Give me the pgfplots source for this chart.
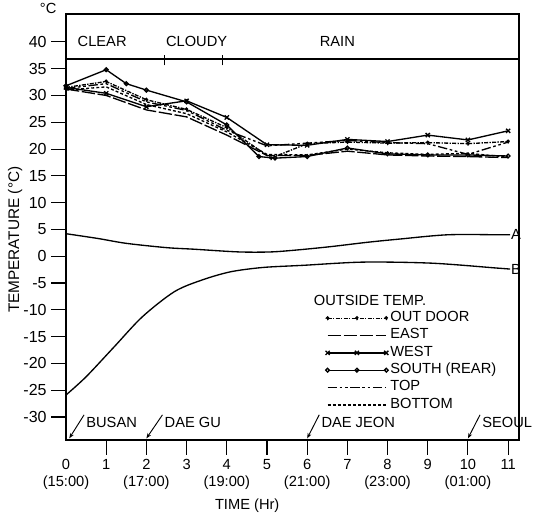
\documentclass[border=0pt]{standalone}
\usepackage{fontspec}
\setmainfont{Liberation Sans}
\usepackage{pgfplots}
\pgfplotsset{compat=1.18}
\usetikzlibrary{arrows.meta}

\begin{document}
\begin{tikzpicture}[font=\fontsize{11}{12}\selectfont]
\begin{axis}[
  scale only axis,
  width=339.75pt, height=319.5pt,
  xmin=0, xmax=11.27, ymin=-34.3, ymax=45.2,
  clip=false,
  axis line style={line width=1.1pt},
  tick style={line width=0.8pt, black},
  tick align=outside,
  xtick pos=bottom, ytick pos=left,
  major tick length=11pt,
  xtick={1,...,11},
  xticklabels={1,{2\\(17:00)},3,{4\\(19:00)},5,{6\\(21:00)},7,{8\\(23:00)},9,{10\\(01:00)},11},
  extra x ticks={0},
  extra x tick labels={{0\\(15:00)}},
  extra x tick style={major tick length=11pt, tick style={draw=none}},
  xticklabel style={align=center, anchor=north, font=\fontsize{11}{12.5}\selectfont},
  ytick={-30,-25,...,40},
  yticklabels={-30,-25,-20,-15,-10,-5,0,5,10,15,20,25,30,35,40},
  yticklabel style={font=\fontsize{12}{12}\selectfont},
  ylabel={TEMPERATURE (°C)},
  ylabel style={at={(axis description cs:-0.086,0.47)}, anchor=south, font=\fontsize{11.5}{12}\selectfont},
  every axis plot/.append style={black, line width=1pt},
  legend image code/.code={\draw[#1] plot coordinates {(0pt,0pt) (22pt,0pt) (44pt,0pt)};},
  legend cell align=left,
  legend style={at={(axis cs:6.45,-9.9)}, anchor=north west, draw=none, fill=none,
    inner sep=0pt, row sep=0pt, column sep=1pt,
    nodes={inner sep=0.5pt, text height=8.5pt, text depth=3.5pt, font=\fontsize{11}{12}\selectfont}},
]
% outside temperatures
\addplot[densely dashdotted, mark=*, mark size=1pt] coordinates {
  (0,31.5)(1,32.6)(2,29.2)(3,27.4)(4,24.0)(5.1,18.3)(6,21.0)(7,21.3)(8,21.1)(9,21.2)(10,21.0)(11,21.4)};
\addlegendentry{OUT DOOR}
\addplot[dash pattern=on 10pt off 2pt] coordinates {
  (0,31.2)(1,30.0)(2,27.3)(3,26.0)(4,22.6)(5,18.8)(6,18.8)(7,19.6)(8,18.9)(9,18.7)(10,18.6)(11,18.4)};
\addlegendentry{EAST}
\addplot[solid, mark=x, mark size=2.2pt] coordinates {
  (0,31.5)(1,30.4)(2,27.9)(3,29.0)(4,25.9)(5,20.8)(6,20.7)(7,21.8)(8,21.4)(9,22.6)(10,21.7)(11,23.4)};
\addlegendentry{WEST}
\addplot[solid, mark=o, mark size=1.4pt] coordinates {
  (0,31.8)(1,34.8)(1.5,32.2)(2,31.0)(3,28.8)(4,24.5)(4.8,18.6)(5.2,18.3)(6,18.6)(7,20.2)(8,19.1)(9,18.9)(10,18.9)(11,18.7)};
\addlegendentry{SOUTH (REAR)}
\addplot[dash pattern=on 7pt off 2pt on 2pt off 2pt on 2pt off 2pt] coordinates {
  (0,31.3)(1,32.2)(2,28.8)(3,27.2)(4,23.5)(5,20.6)(6,21.1)(7,21.6)(8,21.2)(9,21.0)(10,19.0)(11,21.3)};
\addlegendentry{TOP}
\addplot[dash pattern=on 2.2pt off 1.6pt] coordinates {
  (0,31.0)(1,31.6)(2,28.3)(3,26.6)(4,23.2)(5,19.0)(6,18.9)(7,20.0)(8,19.3)(9,19.0)(10,19.2)(11,18.5)};
\addlegendentry{BOTTOM}

% curves A and B
\addplot[smooth, forget plot] coordinates {
  (0,4.2)(0.8,3.3)(1.5,2.4)(2.5,1.6)(3.2,1.3)(4.3,0.8)(5.1,0.8)(5.8,1.2)(6.6,1.8)(7.5,2.6)(8.3,3.2)(9.5,4.0)(10.8,4.0)(11.05,4.0)};
\addplot[smooth, forget plot] coordinates {
  (0,-25.9)(0.5,-22.5)(1.2,-16.9)(1.9,-11.3)(2.7,-6.6)(3.4,-4.4)(4.1,-2.9)(4.9,-2.1)(5.9,-1.7)(7.4,-1.1)(9.1,-1.3)(10.7,-2.2)(11.05,-2.4)};
\node[anchor=west, inner sep=0.5pt] at (axis cs:11.05,4.0) {A};
\node[anchor=west, inner sep=0.5pt] at (axis cs:11.05,-2.4) {B};

% weather band
\draw[line width=1pt] (axis cs:0,36.8) -- (axis cs:11.27,36.8);
\draw[line width=0.8pt] (axis cs:2.45,35.6) -- (axis cs:2.45,37.6);
\draw[line width=0.8pt] (axis cs:3.9,35.6) -- (axis cs:3.9,37.6);
\node at (axis cs:0.9,40) {CLEAR};
\node at (axis cs:3.25,40) {CLOUDY};
\node at (axis cs:6.75,40) {RAIN};

\node[anchor=west] at (axis cs:6.05,-8.2) {OUTSIDE TEMP.};

% cities
\draw[line width=0.7pt, -{Stealth[length=4pt, width=3pt]}] (axis cs:0.45,-29.6) -- (axis cs:0.08,-34.0);
\node[anchor=west, inner sep=0pt] at (axis cs:0.5,-31.1) {BUSAN};
\draw[line width=0.7pt, -{Stealth[length=4pt, width=3pt]}] (axis cs:2.4,-29.6) -- (axis cs:2.0,-34.0);
\node[anchor=west, inner sep=0pt] at (axis cs:2.45,-31.1) {DAE GU};
\draw[line width=0.7pt, -{Stealth[length=4pt, width=3pt]}] (axis cs:6.3,-29.6) -- (axis cs:6.0,-34.0);
\node[anchor=west, inner sep=0pt] at (axis cs:6.35,-31.1) {DAE JEON};
\draw[line width=0.7pt, -{Stealth[length=4pt, width=3pt]}] (axis cs:10.3,-29.6) -- (axis cs:10.0,-34.0);
\node[anchor=west, inner sep=0pt] at (axis cs:10.35,-31.1) {SEOUL};

\node[anchor=south east, inner sep=0pt] at ([xshift=-7pt]rel axis cs:0,1) {°C};
\node at ([yshift=-49pt]rel axis cs:0.4,0) {TIME (Hr)};

\coordinate (bl) at (rel axis cs:0,0);
\coordinate (tr) at (rel axis cs:1,1);
\end{axis}
\pgfresetboundingbox
\path ([shift={(-49.5pt,-59.25pt)}]bl) rectangle ([shift={(14.25pt,10.5pt)}]tr);
\end{tikzpicture}
\end{document}
